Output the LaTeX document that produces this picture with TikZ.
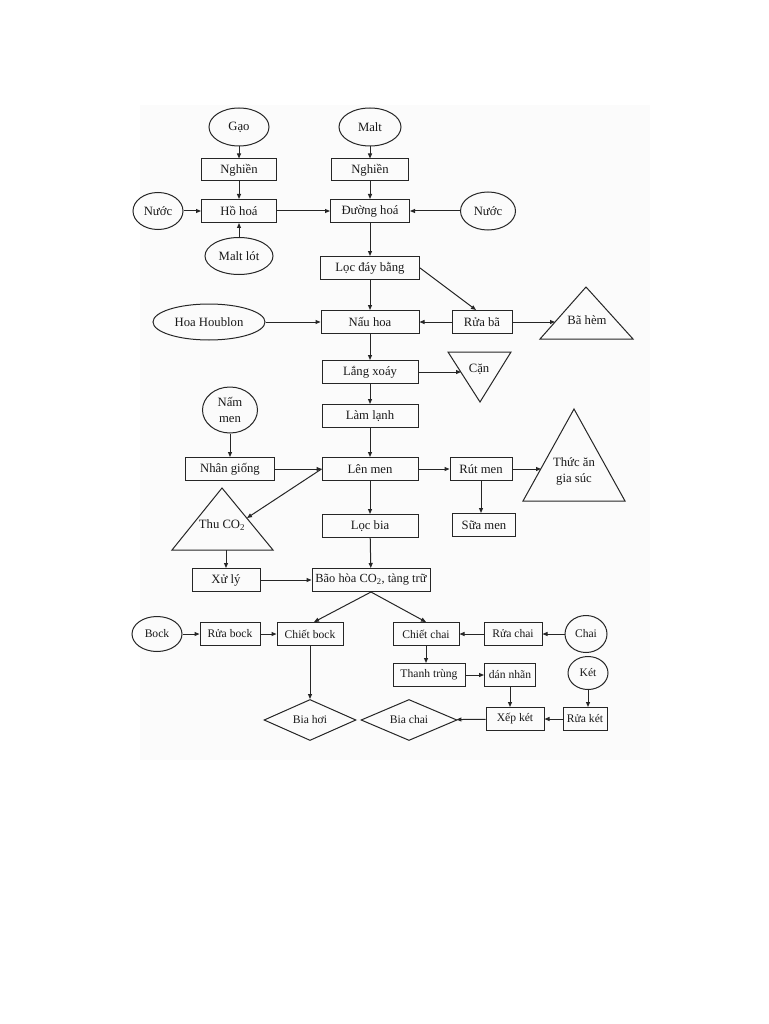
\documentclass[tikz,border=0pt]{standalone}
\usepackage{fontspec}
\setmainfont{Liberation Serif}
\usetikzlibrary{shapes.geometric,arrows.meta}
\begin{document}
\begin{tikzpicture}[x=1pt,y=-1pt,
  every node/.style={font=\fontsize{12.7}{15}\selectfont, text=black!90},
  sm/.style={font=\fontsize{11.6}{14}\selectfont},
  box/.style={draw=black!85, line width=1pt, rectangle, inner sep=0, minimum height=23},
  ell/.style={draw=black!85, line width=1pt, ellipse, inner sep=0},
  dia/.style={draw=black!85, line width=1pt, diamond, inner sep=0, aspect=2.2, minimum width=92, minimum height=41},
  tri/.style={draw=black!85, line width=1pt, line join=miter},
  arr/.style={draw=black!85, line width=1pt, -{Triangle[length=5pt,width=4pt]}},
  lbl/.style={inner sep=0, align=center}
]
\useasboundingbox (0,0) rectangle (768,1024);
\fill[black!1.5] (140,105) rectangle (650,760);

% top
\node[ell, minimum width=60, minimum height=38] (gao) at (239,127) {Gạo};
\node[ell, minimum width=62, minimum height=38] (malt) at (370,127) {Malt};
\node[box, minimum width=75, minimum height=22] (nghien1) at (239,170) {Nghiền};
\node[box, minimum width=77, minimum height=22] (nghien2) at (370,170) {Nghiền};
\node[ell, minimum width=50, minimum height=37] (nuoc1) at (158,211) {Nước};
\node[box, minimum width=75] (hohoa) at (239,211) {Hồ hoá};
\node[box, minimum width=79] (duonghoa) at (370,211) {Đường hoá};
\node[ell, minimum width=55, minimum height=38] (nuoc2) at (488,211) {Nước};
\node[ell, minimum width=68, minimum height=37] (maltlot) at (239,256) {Malt lót};
\node[box, minimum width=99] (loc) at (370,268) {Lọc đáy bằng};
\node[ell, minimum width=112, minimum height=36] (houblon) at (209,322) {Hoa Houblon};
\node[box, minimum width=98] (nauhoa) at (370,322) {Nấu hoa};
\node[box, minimum width=60] (ruaba) at (482,322) {Rửa bã};

\draw[tri] (586,287) -- (633,339) -- (540,339) -- cycle;
\node[lbl] (bahem) at (587,320) {Bã hèm};
\coordinate (bahemin) at (555,322);

\node[box, minimum width=96] (langxoay) at (370,372) {Lắng xoáy};
\draw[tri] (448,352) -- (511,352) -- (480,402) -- cycle;
\node[lbl] (can) at (479,369) {Cặn};
\coordinate (canin) at (461,372);

\node[ell, minimum width=55, minimum height=46, align=center, font=\fontsize{12.7}{16}\selectfont] (nammen) at (230,410) {Nấm\\men};
\node[box, minimum width=96] (lamlanh) at (370,416) {Làm lạnh};
\node[box, minimum width=89] (nhangiong) at (230,469) {Nhân giống};
\node[box, minimum width=96] (lenmen) at (370,469) {Lên men};
\node[box, minimum width=62] (rutmen) at (481,469) {Rút men};

\draw[tri] (574,409) -- (625,501) -- (523,501) -- cycle;
\node[lbl, font=\fontsize{12.7}{16}\selectfont] (thucan) at (574,471) {Thức ăn\\gia súc};
\coordinate (thucanin) at (541,469);

\draw[tri] (222,488) -- (273,550) -- (172,550) -- cycle;
\node[lbl] (thuco2) at (222,525) {Thu CO\textsubscript{2}};
\coordinate (thuin) at (247,518);
\coordinate (thuout) at (226,550);

\node[box, minimum width=96] (locbia) at (370,526) {Lọc bia};
\node[box, minimum width=63] (suamen) at (484,525) {Sữa men};
\node[box, minimum width=68] (xuly) at (226,580) {Xử lý};
\node[box, font=\fontsize{12.4}{14}\selectfont, minimum width=118] (baohoa) at (371,580) {Bão hòa CO\textsubscript{2}, tàng trữ};

% bottom
\node[ell, sm, minimum width=50, minimum height=35] (bock) at (157,634) {Bock};
\node[box, sm, minimum width=60] (ruabock) at (230,634) {Rửa bock};
\node[box, sm, minimum width=66] (chietbock) at (310,634) {Chiết bock};
\node[box, sm, minimum width=66] (chietchai) at (426,634) {Chiết chai};
\node[box, sm, minimum width=58] (ruachai) at (513,634) {Rửa chai};
\node[ell, sm, minimum width=42, minimum height=37] (chai) at (586,634) {Chai};
\node[box, sm, minimum width=72] (thanhtrung) at (429,675) {Thanh trùng};
\node[box, sm, minimum width=51] (dannhan) at (510,675) {dán nhãn};
\node[ell, sm, minimum width=40, minimum height=33] (ket) at (588,673) {Két};
\node[dia, sm] (biahoi) at (310,720) {Bia hơi};
\node[dia, sm, minimum width=96] (biachai) at (409,720) {Bia chai};
\node[box, sm, minimum width=58] (xepket) at (515,719) {Xếp két};
\node[box, sm, minimum width=44] (ruaket) at (585,719) {Rửa két};

% connectors
\draw[arr] (gao) -- (nghien1);
\draw[arr] (nghien1) -- (hohoa);
\draw[arr] (nuoc1) -- (hohoa);
\draw[arr] (maltlot) -- (hohoa);
\draw[arr] (hohoa) -- (duonghoa);
\draw[arr] (malt) -- (nghien2);
\draw[arr] (nghien2) -- (duonghoa);
\draw[arr] (nuoc2) -- (duonghoa);
\draw[arr] (duonghoa) -- (loc);
\draw[arr] (loc) -- (nauhoa);
\draw[arr] (loc.east) -- ([xshift=-6pt]ruaba.north);
\draw[arr] (ruaba) -- (nauhoa);
\draw[arr] (ruaba) -- (bahemin);
\draw[arr] (houblon) -- (nauhoa);
\draw[arr] (nauhoa) -- (langxoay);
\draw[arr] (langxoay) -- (canin);
\draw[arr] (langxoay) -- (lamlanh);
\draw[arr] (lamlanh) -- (lenmen);
\draw[arr] (nammen) -- (nhangiong);
\draw[arr] (nhangiong) -- (lenmen);
\draw[arr] (lenmen.west) -- (thuin);
\draw[arr] (lenmen) -- (rutmen);
\draw[arr] (rutmen) -- (thucanin);
\draw[arr] (rutmen.south) -- (rutmen.south |- suamen.north);
\draw[arr] (lenmen) -- (locbia);
\draw[arr] (locbia) -- (baohoa);
\draw[arr] (thuout) -- (xuly);
\draw[arr] (xuly) -- (baohoa);
\draw[arr] (baohoa.south) -- ([xshift=4pt]chietbock.north);
\draw[arr] (baohoa.south) -- (chietchai.north);
\draw[arr] (bock) -- (ruabock);
\draw[arr] (ruabock) -- (chietbock);
\draw[arr] (chietbock) -- (biahoi);
\draw[arr] (chai) -- (ruachai);
\draw[arr] (ruachai) -- (chietchai);
\draw[arr] (chietchai.south) -- (chietchai.south |- thanhtrung.north);
\draw[arr] (thanhtrung) -- (dannhan);
\draw[arr] (dannhan.south) -- (dannhan.south |- xepket.north);
\draw[arr] (ket.south) -- (ket.south |- ruaket.north);
\draw[arr] (ruaket) -- (xepket);
\draw[arr] (xepket) -- (biachai);
\end{tikzpicture}
\end{document}
